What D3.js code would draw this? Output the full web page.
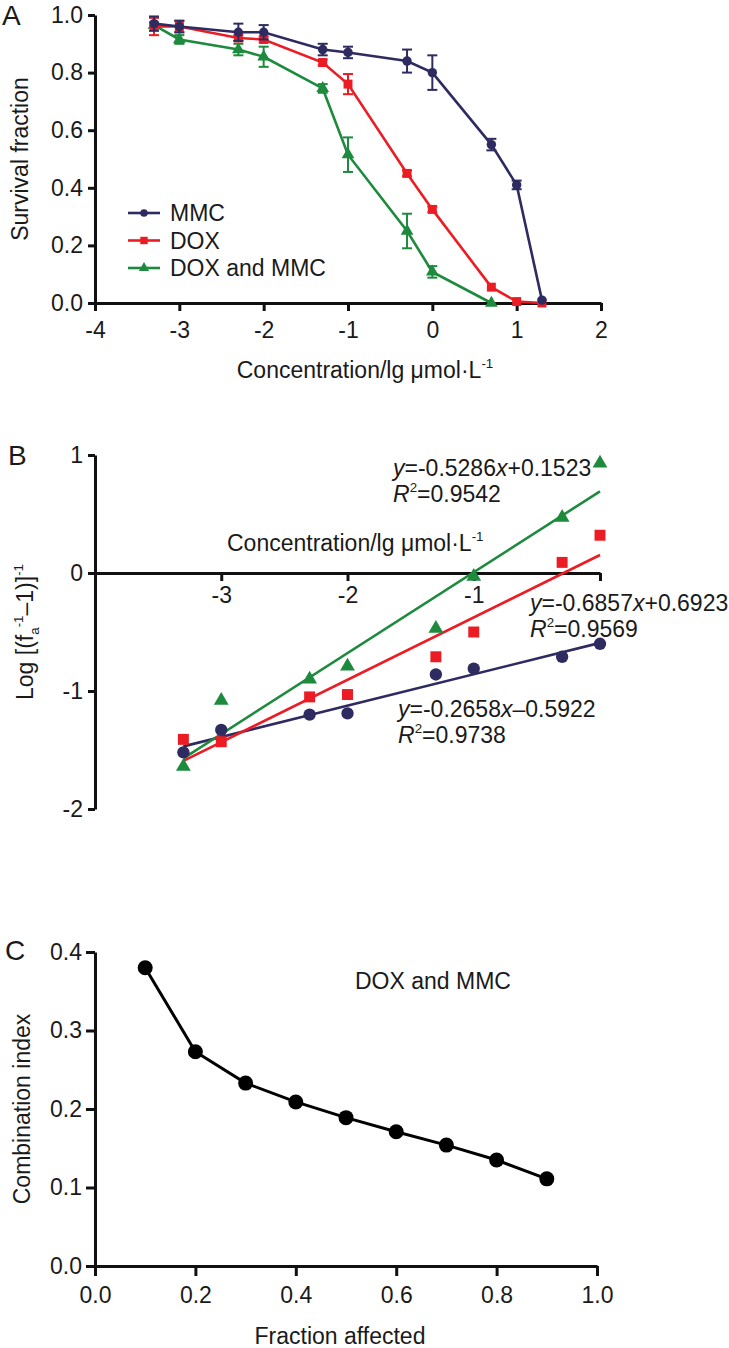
<!DOCTYPE html>
<html><head><meta charset="utf-8">
<script src="https://cdn.jsdelivr.net/npm/d3@7"></script>
<style>
body{margin:0;background:#fff}
text{font-family:"Liberation Sans",Arial,Helvetica,sans-serif;fill:#1a1a1a}
</style>
</head><body>
<svg id="chart" width="729" height="1348"></svg>
<script>
// ---------- Panel A data ----------
const concA = [-3.3, -3, -2.3, -2, -1.3, -1, -0.3, 0, 0.7, 1, 1.3];
const mmcA = [0.97, 0.96, 0.94, 0.94, 0.88, 0.87, 0.84, 0.80, 0.55, 0.41, 0.01];
const mmcErrA = [0.025, 0.02, 0.03, 0.025, 0.02, 0.02, 0.04, 0.06, 0.02, 0.015, 0.005];
const doxA = [0.96, 0.96, 0.92, 0.915, 0.835, 0.76, 0.45, 0.325, 0.055, 0.005, 0.0];
const doxErrA = [0.03, 0.02, 0.01, 0.01, 0.01, 0.035, 0.01, 0.01, 0.005, 0.005, 0.003];
const concComboA = [-3.3, -3, -2.3, -2, -1.3, -1, -0.3, 0, 0.7];
const comboA = [0.965, 0.915, 0.88, 0.855, 0.745, 0.515, 0.25, 0.108, 0.0];
const comboErrA = [0.01, 0.015, 0.02, 0.035, 0.015, 0.06, 0.06, 0.02, 0.0];
const xTicksA = [-4, -3, -2, -1, 0, 1, 2];
const yTicksA = [0, 0.2, 0.4, 0.6, 0.8, 1.0];
const legendA = ["MMC", "DOX", "DOX and MMC"];

// ---------- Panel B data ----------
const concB = [-3.3, -3, -2.3, -2, -1.3, -1, -0.3, 0];
const mmcB = [-1.52, -1.33, -1.20, -1.19, -0.86, -0.81, -0.71, -0.60];
const doxB = [-1.41, -1.43, -1.05, -1.03, -0.71, -0.50, 0.09, 0.32];
const comboB = [-1.64, -1.08, -0.90, -0.79, -0.47, -0.03, 0.47, 0.93];
const fitSlopes = [0.2658, 0.5286, 0.6857];      // mmc, dox, combo lines as drawn
const fitIntercepts = [-0.5922, 0.1523, 0.6923];
const fitRange = [-3.3, 0];
const xTicksB = [-3, -2, -1, 0];
const yTicksB = [-2, -1, 0, 1];
const eqLabels = [
  {eq: ["-0.5286", "+0.1523"], r2: "0.9542"},
  {eq: ["-0.6857", "+0.6923"], r2: "0.9569"},
  {eq: ["-0.2658", "\u20130.5922"], r2: "0.9738"}
];

// ---------- Panel C data ----------
const fracAffected = [0.1, 0.2, 0.3, 0.4, 0.5, 0.6, 0.7, 0.8, 0.9];
const combIndex = [0.38, 0.273, 0.233, 0.209, 0.189, 0.171, 0.154, 0.135, 0.111];
const xTicksC = [0, 0.2, 0.4, 0.6, 0.8, 1.0];
const yTicksC = [0, 0.1, 0.2, 0.3, 0.4];

// ---------- styles ----------
const C_MMC = "#2e2b61", C_DOX = "#ec1c24", C_COMBO = "#1d8a3d";
const FS = 23;
const svg = d3.select("#chart");

function rich(sel, segs, size) {
  let shift = 0;
  segs.forEach(s => {
    const target = s.sup ? -0.42 * size : s.sub ? 0.28 * size : 0;
    const ts = sel.append("tspan").text(s.t)
      .attr("dy", target - shift)
      .attr("font-size", (s.sup || s.sub) ? size * 0.58 : size);
    if (s.i) ts.attr("font-style", "italic");
    shift = target;
  });
  return sel;
}

function styleAxis(g) {
  g.selectAll("path.domain").attr("stroke", "#111").attr("stroke-width", 3);
  g.selectAll(".tick line").attr("stroke", "#111").attr("stroke-width", 3);
  g.selectAll(".tick text").attr("font-size", FS)
    .attr("font-family", '"Liberation Sans",Arial,sans-serif').attr("fill", "#1a1a1a");
}
const plain = d => String(d);

// ================= PANEL A =================
const xA = d3.scaleLinear().domain([-4, 2]).range([95, 601]);
const yA = d3.scaleLinear().domain([0, 1]).range([303, 15]);

svg.append("g").attr("transform", `translate(0,${yA(0)})`)
  .call(d3.axisBottom(xA).tickValues(xTicksA).tickFormat(plain).tickSize(8).tickPadding(11).tickSizeOuter(0))
  .call(styleAxis);
svg.append("g").attr("transform", `translate(${xA(-4)},0)`)
  .call(d3.axisLeft(yA).tickValues(yTicksA).tickFormat(d3.format(".1f")).tickSize(7).tickPadding(5).tickSizeOuter(0))
  .call(styleAxis);

svg.append("text").attr("x", 2).attr("y", 25).attr("font-size", 28).text("A");
svg.append("text").attr("transform", "translate(28,159) rotate(-90)")
  .attr("text-anchor", "middle").attr("font-size", FS).text("Survival fraction");
rich(svg.append("text").attr("x", 365).attr("y", 378).attr("text-anchor", "middle"),
  [{t: "Concentration/lg \u03bcmol\u00b7L"}, {t: "-1", sup: true}], FS);

const seriesA = [
  {x: concComboA, y: comboA, e: comboErrA, c: C_COMBO, sym: d3.symbolTriangle, size: 70},
  {x: concA, y: doxA, e: doxErrA, c: C_DOX, sym: d3.symbolSquare, size: 80},
  {x: concA, y: mmcA, e: mmcErrA, c: C_MMC, sym: d3.symbolCircle, size: 70}
];
const lineA = d3.line().x(d => xA(d[0])).y(d => yA(d[1]));
seriesA.forEach(s => {
  const pts = s.x.map((v, i) => [v, s.y[i], s.e[i]]);
  const g = svg.append("g");
  g.append("path").attr("d", lineA(pts)).attr("fill", "none").attr("stroke", s.c).attr("stroke-width", 2.6);
  pts.forEach(p => {
    if (p[2] > 0.008) {
      const x = xA(p[0]), y1 = yA(p[1] + p[2]), y2 = yA(p[1] - p[2]);
      g.append("line").attr("x1", x).attr("x2", x).attr("y1", y1).attr("y2", y2).attr("stroke", s.c).attr("stroke-width", 2);
      g.append("line").attr("x1", x - 5).attr("x2", x + 5).attr("y1", y1).attr("y2", y1).attr("stroke", s.c).attr("stroke-width", 2);
      g.append("line").attr("x1", x - 5).attr("x2", x + 5).attr("y1", y2).attr("y2", y2).attr("stroke", s.c).attr("stroke-width", 2);
    }
    g.append("path").attr("d", d3.symbol().type(s.sym).size(s.size)())
      .attr("transform", `translate(${xA(p[0])},${yA(p[1])})`).attr("fill", s.c);
  });
});

// legend
const legSym = [d3.symbolCircle, d3.symbolSquare, d3.symbolTriangle];
const legCol = [C_MMC, C_DOX, C_COMBO];
const legSize = [45, 55, 45];
legendA.forEach((name, i) => {
  const cy = 213 + i * 27.5;
  svg.append("line").attr("x1", 128).attr("x2", 160).attr("y1", cy).attr("y2", cy)
    .attr("stroke", legCol[i]).attr("stroke-width", 2.6);
  svg.append("path").attr("d", d3.symbol().type(legSym[i]).size(legSize[i])())
    .attr("transform", `translate(144,${cy})`).attr("fill", legCol[i]);
  svg.append("text").attr("x", 170).attr("y", cy + 8).attr("font-size", FS).text(name);
});

// ================= PANEL B =================
const xB = d3.scaleLinear().domain([-4, 0]).range([95, 600]);
const yB = d3.scaleLinear().domain([-2, 1]).range([809, 455]);

svg.append("g").attr("transform", `translate(0,${yB(0)})`)
  .call(d3.axisBottom(xB).tickValues(xTicksB).tickFormat(d => d === 0 ? "" : String(d)).tickSize(8).tickPadding(6).tickSizeOuter(0))
  .call(styleAxis);
svg.append("g").attr("transform", `translate(${xB(-4)},0)`)
  .call(d3.axisLeft(yB).tickValues(yTicksB).tickFormat(plain).tickSize(7).tickPadding(5).tickSizeOuter(0))
  .call(styleAxis);

svg.append("text").attr("x", 8).attr("y", 465).attr("font-size", 28).text("B");
rich(svg.append("text").attr("transform", "translate(33,632) rotate(-90)").attr("text-anchor", "middle"),
  [{t: "Log [(f"}, {t: "a", sub: true}, {t: "-1", sup: true}, {t: "\u20131)]"}, {t: "-1", sup: true}], FS);
rich(svg.append("text").attr("x", 227).attr("y", 551),
  [{t: "Concentration/lg \u03bcmol\u00b7L"}, {t: "-1", sup: true}], FS);

const seriesB = [
  {y: mmcB, c: C_MMC, sym: d3.symbolCircle, size: 120, k: 0},
  {y: doxB, c: C_DOX, sym: d3.symbolSquare, size: 120, k: 1},
  {y: comboB, c: C_COMBO, sym: d3.symbolTriangle, size: 95, k: 2}
];
seriesB.forEach(s => {
  const f = x => fitSlopes[s.k] * x + fitIntercepts[s.k];
  svg.append("line")
    .attr("x1", xB(fitRange[0])).attr("y1", yB(f(fitRange[0])))
    .attr("x2", xB(fitRange[1])).attr("y2", yB(f(fitRange[1])))
    .attr("stroke", s.c).attr("stroke-width", 2.6);
});
seriesB.forEach(s => {
  concB.forEach((x, i) => {
    svg.append("path").attr("d", d3.symbol().type(s.sym).size(s.size)())
      .attr("transform", `translate(${xB(x)},${yB(s.y[i])})`).attr("fill", s.c);
  });
});

const eqPos = [[393, 476], [530, 611], [398, 717]];
eqLabels.forEach((e, i) => {
  const [x, y] = eqPos[i];
  rich(svg.append("text").attr("x", x).attr("y", y),
    [{t: "y", i: true}, {t: "=" + e.eq[0]}, {t: "x", i: true}, {t: e.eq[1]}], FS);
  rich(svg.append("text").attr("x", x).attr("y", y + 26),
    [{t: "R", i: true}, {t: "2", sup: true}, {t: "=" + e.r2}], FS);
});

// ================= PANEL C =================
const xC = d3.scaleLinear().domain([0, 1]).range([95, 597]);
const yC = d3.scaleLinear().domain([0, 0.4]).range([1266, 952]);

svg.append("g").attr("transform", `translate(0,${yC(0)})`)
  .call(d3.axisBottom(xC).tickValues(xTicksC).tickFormat(d3.format(".1f")).tickSize(10).tickPadding(11).tickSizeOuter(0))
  .call(styleAxis);
svg.append("g").attr("transform", `translate(${xC(0)},0)`)
  .call(d3.axisLeft(yC).tickValues(yTicksC).tickFormat(d3.format(".1f")).tickSize(9).tickPadding(4).tickSizeOuter(0))
  .call(styleAxis);

svg.append("text").attr("x", 5).attr("y", 960).attr("font-size", 28).text("C");
svg.append("text").attr("transform", "translate(30,1109) rotate(-90)")
  .attr("text-anchor", "middle").attr("font-size", FS).text("Combination index");
svg.append("text").attr("x", 340).attr("y", 1344).attr("text-anchor", "middle").attr("font-size", FS).text("Fraction affected");
svg.append("text").attr("x", 355).attr("y", 989).attr("font-size", FS).text("DOX and MMC");

const ptsC = fracAffected.map((f, i) => [f, combIndex[i]]);
svg.append("path").attr("d", d3.line().x(d => xC(d[0])).y(d => yC(d[1]))(ptsC))
  .attr("fill", "none").attr("stroke", "#000").attr("stroke-width", 3);
svg.selectAll("circle.ci").data(ptsC).enter().append("circle").attr("class", "ci")
  .attr("cx", d => xC(d[0])).attr("cy", d => yC(d[1])).attr("r", 7.5).attr("fill", "#000");
</script>
</body></html>
